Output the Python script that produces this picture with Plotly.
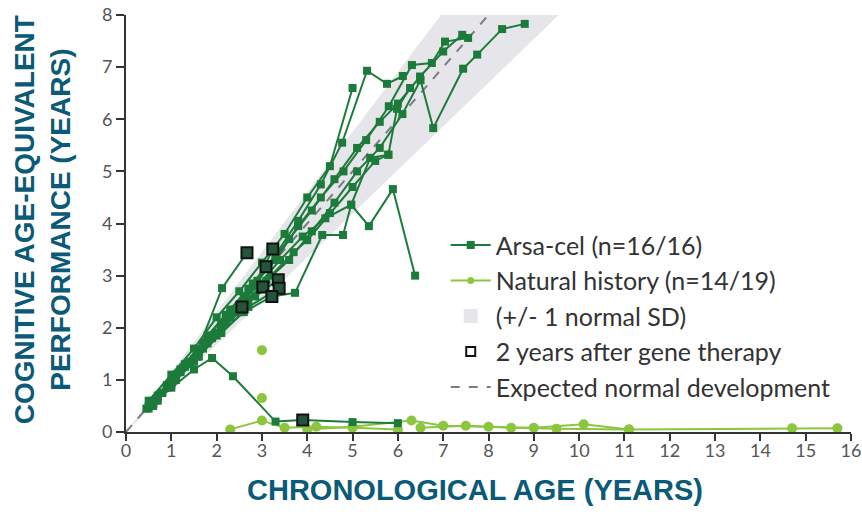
import plotly.graph_objects as go

# ---- Arsa-cel patients (chronological age, cognitive age-equivalent) ----
arsa_x = [
    [0.55, 1.0, 1.6, 2.1, 2.6, 3.1, 3.6, 4.1, 4.6, 5.1, 5.6, 6.1, 6.5, 6.78, 7.44, 7.75, 8.3, 8.8],
    [0.7, 1.2, 1.7, 2.3, 2.8, 3.3, 3.8, 4.3, 4.8, 5.3, 5.8, 6.31, 6.75, 7.04, 7.55],
    [0.6, 1.1, 1.6, 2.1, 2.6, 3.1, 3.6, 4.1, 4.6, 5.1, 5.6, 6.0, 6.49, 7.0, 7.42],
    [0.8, 1.3, 1.8, 2.3, 2.8, 3.3, 3.8, 4.3, 4.77, 5.32, 5.76, 6.11],
    [0.5, 1.0, 1.5, 2.0, 2.5, 3.0, 3.5, 4.0, 4.5, 5.0],
    [0.9, 1.4, 1.9, 2.4, 2.9, 3.4, 3.9, 4.4, 4.97, 5.39, 5.79, 5.98, 6.27],
    [0.6, 1.1, 1.6, 2.1, 2.6, 3.22, 3.73, 4.33, 4.79, 4.97, 5.36, 5.89, 6.38],
    [0.7, 1.2, 1.7, 2.2, 2.7, 3.2, 3.7, 4.0, 4.5, 5.0, 5.5, 5.79],
    [0.45, 1.0, 1.5, 1.9, 2.36, 3.3, 3.9, 5.0, 6.0],
    [0.5, 1.0, 1.5, 2.0, 2.56],
    [0.6, 1.1, 1.6, 2.12, 2.67],
    [0.9, 1.4, 1.9, 2.4, 2.9, 3.24],
    [0.7, 1.2, 1.7, 2.2, 2.7, 3.09],
    [0.5, 1.0, 1.5, 2.0, 2.5, 3.02],
    [0.8, 1.3, 1.8, 2.3, 2.85, 3.36],
    [0.6, 1.1, 1.6, 2.1, 2.7, 3.38],
]
arsa_y = [
    [0.5, 0.95, 1.45, 1.95, 2.45, 2.9, 3.3, 3.85, 4.4, 5.0, 5.45, 6.1, 6.75, 5.83, 6.97, 7.24, 7.73, 7.83],
    [0.6, 1.15, 1.65, 2.25, 2.8, 3.3, 3.95, 4.5, 5.0, 5.6, 6.25, 7.04, 7.08, 7.49, 7.56],
    [0.55, 1.05, 1.55, 2.05, 2.6, 3.15, 3.7, 4.25, 4.85, 5.45, 5.95, 6.3, 6.82, 7.3, 7.62],
    [0.75, 1.3, 1.85, 2.35, 2.85, 3.4, 4.05, 4.75, 5.55, 6.93, 6.68, 6.83],
    [0.6, 1.1, 1.6, 2.2, 2.7, 3.25, 3.8, 4.5, 5.1, 6.6],
    [0.9, 1.35, 1.85, 2.35, 2.8, 3.3, 3.75, 4.1, 4.36, 5.26, 5.32, 6.2, 6.6],
    [0.5, 1.0, 1.45, 1.9, 2.3, 2.6, 2.67, 3.78, 3.78, 4.36, 3.95, 4.66, 3.0],
    [0.65, 1.15, 1.6, 2.1, 2.55, 3.0, 3.45, 3.68, 4.2, 4.7, 5.2, 5.32],
    [0.45, 0.85, 1.2, 1.42, 1.07, 0.2, 0.23, 0.19, 0.17],
    [0.45, 0.9, 1.35, 1.9, 2.4],
    [0.6, 1.1, 1.6, 2.76, 3.44],
    [0.85, 1.3, 1.8, 2.3, 2.9, 3.51],
    [0.7, 1.2, 1.7, 2.25, 2.75, 3.17],
    [0.5, 0.95, 1.4, 1.85, 2.3, 2.78],
    [0.75, 1.25, 1.7, 2.2, 2.6, 2.92],
    [0.55, 1.0, 1.45, 1.9, 2.4, 2.76],
]

# ---- 2 years after gene therapy ----
twoyr_x = [2.56, 2.67, 3.24, 3.09, 3.02, 3.36, 3.38, 3.22, 3.9]
twoyr_y = [2.4, 3.44, 3.51, 3.17, 2.78, 2.92, 2.76, 2.6, 0.23]

# ---- Natural history patients ----
nh_x = [
    [2.3, 3.0, 3.5, 4.2, 5.0, 6.0],
    [3.0],
    [3.0],
    [4.0, 5.0, 6.3, 7.0, 8.0, 9.0, 10.1, 11.1],
    [6.5, 7.5, 8.5, 9.5, 11.1, 14.7, 15.7],
]
nh_y = [
    [0.05, 0.22, 0.08, 0.1, 0.08, 0.05],
    [1.57],
    [0.65],
    [0.05, 0.1, 0.22, 0.12, 0.1, 0.08, 0.15, 0.05],
    [0.08, 0.12, 0.08, 0.06, 0.05, 0.07, 0.07],
]

# ---- Normal development and +/- 1 SD band ----
expected_x = [0, 8]
expected_y = [0, 8]
band_x = [0, 6.95, 9.55, 0]
band_y = [0, 8, 8, 0]

ticks_x = list(range(0, 17))
ticks_y = list(range(0, 9))

ARSA = "#1c7a3a"
NH = "#8cc63e"
TEAL = "#0b5a78"

fig = go.Figure()

fig.add_trace(go.Scatter(x=band_x, y=band_y, fill="toself", fillcolor="#e6e6ea",
                         line=dict(width=0), mode="lines", hoverinfo="skip",
                         showlegend=False))

for i, (xs, ys) in enumerate(zip(nh_x, nh_y)):
    fig.add_trace(go.Scatter(x=xs, y=ys, mode="lines+markers",
                             line=dict(color=NH, width=2),
                             marker=dict(symbol="circle", size=10, color=NH),
                             showlegend=False))

fig.add_trace(go.Scatter(x=expected_x, y=expected_y, mode="lines",
                         line=dict(color="#7a7a88", width=2, dash="dash"),
                         showlegend=False))

for i, (xs, ys) in enumerate(zip(arsa_x, arsa_y)):
    fig.add_trace(go.Scatter(x=xs, y=ys, mode="lines+markers",
                             line=dict(color=ARSA, width=2),
                             marker=dict(symbol="square", size=8, color=ARSA),
                             showlegend=False))

fig.add_trace(go.Scatter(x=twoyr_x, y=twoyr_y, mode="markers",
                         marker=dict(symbol="square", size=11, color="#24553a",
                                     line=dict(color="#111111", width=2)),
                         showlegend=False))

# legend entries
fig.add_trace(go.Scatter(x=[None], y=[None], mode="lines+markers", name="Arsa-cel (n=16/16)",
                         line=dict(color=ARSA, width=2),
                         marker=dict(symbol="square", size=8, color=ARSA)))
fig.add_trace(go.Scatter(x=[None], y=[None], mode="lines+markers", name="Natural history (n=14/19)",
                         line=dict(color=NH, width=2),
                         marker=dict(symbol="circle", size=7, color=NH)))
fig.add_trace(go.Scatter(x=[None], y=[None], mode="markers", name="(+/- 1 normal SD)",
                         marker=dict(symbol="square", size=14, color="#e6e6ea")))
fig.add_trace(go.Scatter(x=[None], y=[None], mode="markers", name="2 years after gene therapy",
                         marker=dict(symbol="square-open", size=9, color="#111111",
                                     line=dict(width=2))))
fig.add_trace(go.Scatter(x=[None], y=[None], mode="lines", name="Expected normal development",
                         line=dict(color="#7a7a88", width=2, dash="dash")))

fig.update_layout(
    width=862, height=519,
    margin=dict(l=126, r=11, t=15, b=87),
    paper_bgcolor="white", plot_bgcolor="white",
    font=dict(family="Lato, Open Sans, sans-serif", color="#444"),
    legend=dict(x=0.441, y=0.503, xanchor="left", yanchor="top",
                bgcolor="rgba(255,255,255,1)", font=dict(size=25, color="#333"),
                itemwidth=40, tracegroupgap=0),
    xaxis=dict(range=[0, 16], tickvals=ticks_x, showgrid=False, zeroline=False,
               showline=True, linecolor="#333", linewidth=2, ticks="outside",
               ticklen=7, tickwidth=2, tickcolor="#333", automargin=False,
               ticklabelstandoff=-6, ticklabeloverflow="allow",
               tickfont=dict(size=18, color="#555")),
    yaxis=dict(range=[0, 8], tickvals=ticks_y, showgrid=False, zeroline=False,
               showline=True, linecolor="#333", linewidth=2, ticks="outside",
               ticklen=8, tickwidth=2, tickcolor="#333", automargin=False,
               ticklabeloverflow="allow",
               tickfont=dict(size=18, color="#555")),
    annotations=[
        dict(text="<b>CHRONOLOGICAL AGE (YEARS)</b>", xref="paper", yref="paper",
             x=0.482, y=-0.139, xanchor="center", yanchor="middle", showarrow=False,
             font=dict(size=29, color=TEAL, family="Liberation Sans Narrow, Arial Narrow, Arial")),
        dict(text="<b>COGNITIVE AGE-EQUIVALENT<br>PERFORMANCE (YEARS)</b>", xref="paper", yref="paper",
             x=-0.116, y=0.51, xanchor="center", yanchor="middle", showarrow=False,
             textangle=-90,
             font=dict(size=28, color=TEAL, family="Liberation Sans, Arial")),
    ],
)

fig.write_html("out.html", config={"displayModeBar": False},
               post_script="document.body.style.margin='0';")
